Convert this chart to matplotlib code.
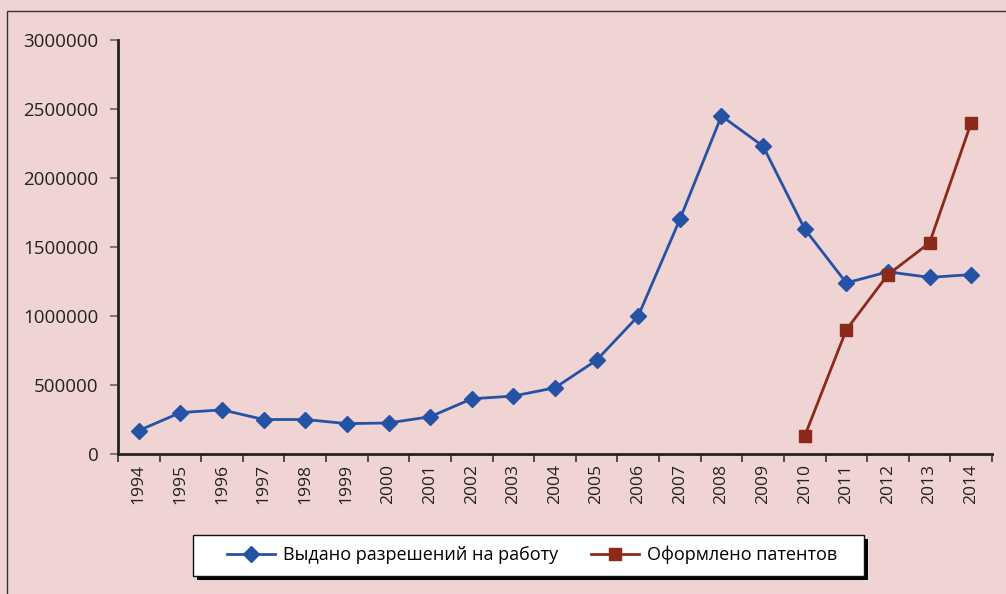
import matplotlib
matplotlib.use("Agg")
import matplotlib.pyplot as plt
from matplotlib.patches import Rectangle
from matplotlib.ticker import FixedLocator, FuncFormatter

plt.rcParams["font.family"] = ["Open Sans", "DejaVu Sans"]

years = [str(y) for y in range(1994, 2015)]
permits = [170000, 300000, 320000, 250000, 250000, 220000, 225000, 270000,
           400000, 420000, 480000, 680000, 1000000, 1700000, 2450000, 2230000,
           1630000, 1240000, 1320000, 1280000, 1300000]
patent_years = ["2010", "2011", "2012", "2013", "2014"]
patents = [130000, 900000, 1300000, 1530000, 2400000]

BG = "#F0D4D4"
BLUE = "#2452A4"
RED = "#8B2A1A"
W, H = 1006, 594

fig = plt.figure(figsize=(W / 100, H / 100), dpi=100, facecolor=BG)
ax = fig.add_axes([118 / W, (H - 454) / H, (992 - 118) / W, (454 - 40) / H])
ax.set_facecolor(BG)

xs = list(range(len(years)))
px = [years.index(y) for y in patent_years]
ax.plot(xs, permits, color=BLUE, lw=2, marker="D", ms=8, label="Выдано разрешений на работу")
ax.plot(px, patents, color=RED, lw=2, marker="s", ms=8, label="Оформлено патентов")

ax.set_xlim(-0.5, len(years) - 0.5)
ax.set_ylim(0, 3000000)
ax.xaxis.set_major_locator(FixedLocator([i - 0.5 for i in range(len(years) + 1)]))
ax.xaxis.set_minor_locator(FixedLocator(xs))
ax.set_xticklabels([])
ax.set_xticklabels(years, minor=True, rotation=90, fontsize=12.6, color="#222222")
ax.tick_params(axis="x", which="major", length=6, width=1.2, color="#333333")
ax.tick_params(axis="x", which="minor", length=0, pad=7)
ax.set_yticks(range(0, 3000001, 500000))
ax.yaxis.set_major_formatter(FuncFormatter(lambda v, _: f"{int(v)}"))
ax.tick_params(axis="y", length=6, width=1.2, color="#666666", labelsize=13.5, labelcolor="#222222", pad=8)
for side in ("top", "right"):
    ax.spines[side].set_visible(False)
for side in ("left", "bottom"):
    ax.spines[side].set_linewidth(2)
    ax.spines[side].set_color("#222222")

# outer frame, running off the right and bottom edges
fig.patches.append(Rectangle((7 / W, -0.1), 2, (H - 11) / H + 0.1, transform=fig.transFigure,
                             fill=False, edgecolor="#333333", lw=1))

# legend box with hard black shadow
fig.patches.append(Rectangle((197 / W, (H - 580) / H), 671 / W, 41 / H, transform=fig.transFigure,
                             facecolor="black", edgecolor="none"))
fig.patches.append(Rectangle((193 / W, (H - 576) / H), 671 / W, 41 / H, transform=fig.transFigure,
                             facecolor="white", edgecolor="#111111", lw=1))
fig.legend(loc="center", bbox_to_anchor=(532 / W, (H - 555) / H), ncol=2,
           fontsize=13, frameon=False, handlelength=2.66, columnspacing=1.83,
           borderpad=0.2, handletextpad=0.44)

fig.savefig("out.png", dpi=100, facecolor=BG)
